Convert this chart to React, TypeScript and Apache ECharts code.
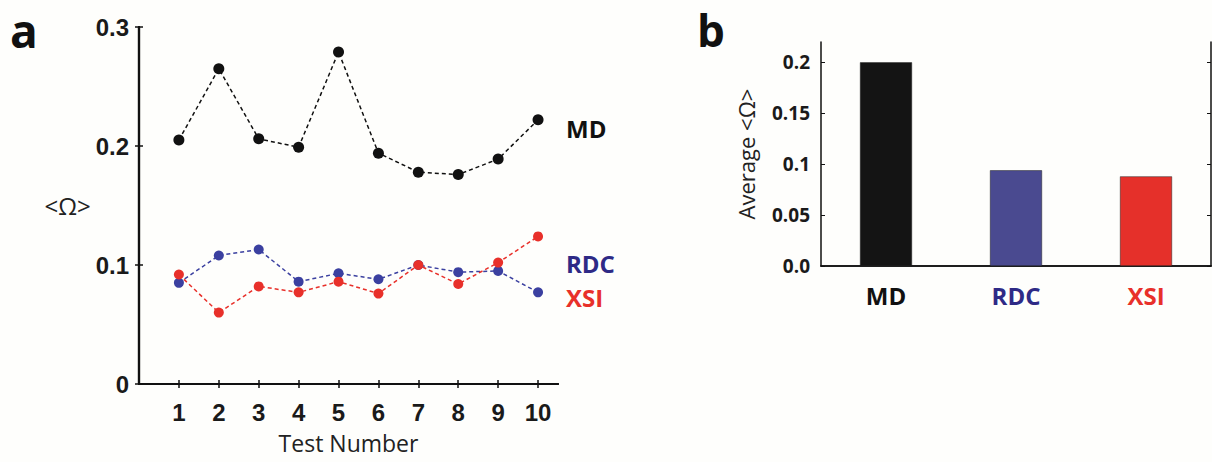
import React, { useEffect, useRef } from "react";
import * as echarts from "echarts";

const testNumbers = [1, 2, 3, 4, 5, 6, 7, 8, 9, 10];
const mdValues = [0.205, 0.265, 0.206, 0.199, 0.279, 0.194, 0.178, 0.176, 0.189, 0.222];
const rdcValues = [0.085, 0.108, 0.113, 0.086, 0.093, 0.088, 0.1, 0.094, 0.095, 0.077];
const xsiValues = [0.092, 0.06, 0.082, 0.077, 0.086, 0.076, 0.1, 0.084, 0.102, 0.124];
const leftYTicks = [0, 0.1, 0.2, 0.3];
const barCategories = ["MD", "RDC", "XSI"];
const barValues = [0.2, 0.094, 0.088];
const rightYTicks = [0, 0.05, 0.1, 0.15, 0.2];

const BLACK = "#111111";
const BLUE_PT = "#3b40a0";
const RED_PT = "#e8302a";
const BLUE_TXT = "#2e2a86";
const RED_TXT = "#e8302a";
const barColors = ["#141414", "#4a4a90", "#e5302a"];
const labelColors = [BLACK, BLUE_TXT, RED_TXT];

const tickFont = "'Liberation Sans', Arial, sans-serif";
const wordFont = "'Open Sans', sans-serif";

export default function App() {
  const ref = useRef<HTMLDivElement>(null);
  useEffect(() => {
    if (!ref.current) return;
    const chart = echarts.init(ref.current, undefined, { renderer: "svg" });
    const lineSeries = (name: string, vals: number[], color: string, size: number) => ({
      type: "line",
      name,
      xAxisIndex: 0,
      yAxisIndex: 0,
      data: testNumbers.map((t, i) => [t, vals[i]]),
      symbol: "circle",
      symbolSize: size,
      itemStyle: { color },
      lineStyle: { color, width: 1.5, type: [4, 3] },
      z: name === "MD" ? 3 : 4,
    });
    const option: any = {
      animation: false,
      backgroundColor: "#fefefc",
      grid: [
        { left: 139, top: 27, width: 419, height: 357 },
        { left: 821, top: 42, width: 390, height: 224 },
      ],
      xAxis: [
        {
          gridIndex: 0,
          type: "value",
          position: "bottom",
          min: 0,
          max: 10.5,
          splitLine: { show: false },
          axisLine: { show: true, lineStyle: { color: BLACK, width: 2.2 } },
          axisTick: { show: true, inside: true, length: 4, customValues: testNumbers, lineStyle: { color: BLACK, width: 1.5 } },
          axisLabel: {
            customValues: testNumbers,
            margin: 16,
            color: "#1a1a1a",
            fontFamily: tickFont,
            fontWeight: "bold",
            fontSize: 24,
          },
          name: "Test Number",
          nameLocation: "middle",
          nameGap: 47,
          nameTextStyle: { fontFamily: wordFont, fontSize: 23, color: "#222" },
        },
        {
          gridIndex: 0,
          type: "value",
          position: "top",
          min: 0,
          max: 10.5,
          splitLine: { show: false },
          axisLine: { show: true, lineStyle: { color: BLACK, width: 2.2 } },
          axisTick: { show: true, inside: true, length: 4, customValues: testNumbers, lineStyle: { color: BLACK, width: 1.5 } },
          axisLabel: { show: false },
        },
        {
          gridIndex: 1,
          type: "category",
          position: "bottom",
          data: barCategories,
          axisLine: { show: true, lineStyle: { color: BLACK, width: 1.5 } },
          axisTick: { show: false },
          axisLabel: {
            margin: 17,
            fontFamily: wordFont,
            fontWeight: "bold",
            fontSize: 24,
            color: (_v: any, i: number) => labelColors[i],
          },
        },
        {
          gridIndex: 1,
          type: "category",
          position: "top",
          data: barCategories,
          axisLine: { show: true, lineStyle: { color: BLACK, width: 1.5 } },
          axisTick: { show: false },
          axisLabel: { show: false },
        },
      ],
      yAxis: [
        {
          gridIndex: 0,
          type: "value",
          position: "left",
          min: 0,
          max: 0.3,
          interval: 0.1,
          splitLine: { show: false },
          axisLine: { show: true, lineStyle: { color: BLACK, width: 2.2 } },
          axisTick: { show: true, inside: true, length: 4, customValues: leftYTicks, lineStyle: { color: BLACK, width: 1.5 } },
          axisLabel: {
            customValues: leftYTicks,
            margin: 10,
            color: "#1a1a1a",
            fontFamily: tickFont,
            fontWeight: "bold",
            fontSize: 24,
            formatter: (v: number) => String(v),
          },
          name: "<Ω>",
          nameLocation: "middle",
          nameRotate: 0,
          nameGap: 45,
          nameTextStyle: { fontFamily: wordFont, fontSize: 24, color: "#222", align: "right", padding: [0, 0, 14, 0] },
        },
        {
          gridIndex: 0,
          type: "value",
          position: "right",
          min: 0,
          max: 0.3,
          interval: 0.1,
          splitLine: { show: false },
          axisLine: { show: true, lineStyle: { color: BLACK, width: 2.2 } },
          axisTick: { show: true, inside: true, length: 4, customValues: leftYTicks, lineStyle: { color: BLACK, width: 1.5 } },
          axisLabel: { show: false },
        },
        {
          gridIndex: 1,
          type: "value",
          position: "left",
          min: 0,
          max: 0.22,
          splitLine: { show: false },
          axisLine: { show: true, lineStyle: { color: BLACK, width: 1.5 } },
          axisTick: { show: true, inside: true, length: 4, customValues: rightYTicks, lineStyle: { color: BLACK, width: 1 } },
          axisLabel: {
            customValues: rightYTicks,
            margin: 11,
            color: "#1a1a1a",
            fontFamily: wordFont,
            fontWeight: "bold",
            fontSize: 19,
            formatter: (v: number) => (v === 0 ? "0.0" : String(v)),
          },
          name: "Average <Ω>",
          nameLocation: "middle",
          nameRotate: 90,
          nameGap: 64,
          nameTextStyle: { fontFamily: wordFont, fontSize: 22, color: "#222" },
        },
        {
          gridIndex: 1,
          type: "value",
          position: "right",
          min: 0,
          max: 0.22,
          splitLine: { show: false },
          axisLine: { show: true, lineStyle: { color: BLACK, width: 1.5 } },
          axisTick: { show: true, inside: true, length: 4, customValues: rightYTicks, lineStyle: { color: BLACK, width: 1 } },
          axisLabel: { show: false },
        },
      ],
      series: [
        lineSeries("MD", mdValues, BLACK, 11),
        lineSeries("RDC", rdcValues, BLUE_PT, 10),
        lineSeries("XSI", xsiValues, RED_PT, 10),
        {
          type: "bar",
          name: "Average",
          xAxisIndex: 2,
          yAxisIndex: 2,
          barWidth: 52,
          data: barValues.map((v, i) => ({ value: v, itemStyle: { color: barColors[i], borderColor: "#222", borderWidth: 0.5 } })),
        },
      ],
      graphic: [
        { type: "text", x: 10, y: 30, style: { text: "a", font: `bold 46px ${wordFont}`, fill: "#111", verticalAlign: "middle" } },
        { type: "text", x: 697, y: 30, style: { text: "b", font: `bold 44px ${wordFont}`, fill: "#111", verticalAlign: "middle" } },
        { type: "text", x: 566, y: 128, style: { text: "MD", font: `bold 24px ${wordFont}`, fill: BLACK, verticalAlign: "middle" } },
        { type: "text", x: 566, y: 263, style: { text: "RDC", font: `bold 24px ${wordFont}`, fill: BLUE_TXT, verticalAlign: "middle" } },
        { type: "text", x: 566, y: 297, style: { text: "XSI", font: `bold 24px ${wordFont}`, fill: RED_TXT, verticalAlign: "middle" } },
      ],
    };
    chart.setOption(option);
    return () => chart.dispose();
  }, []);
  return <div ref={ref} style={{ position: "fixed", left: 0, top: 0, width: 1212, height: 462 }} />;
}
